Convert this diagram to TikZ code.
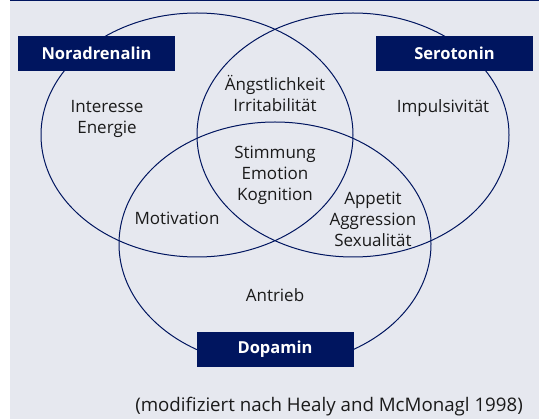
\documentclass[tikz,border=0pt]{standalone}
\usepackage{fontspec}
\setmainfont{Open Sans}
\definecolor{navy}{HTML}{00155F}
\definecolor{panel}{HTML}{E6E8EF}
\definecolor{ink}{HTML}{1A1A1A}
\begin{document}
\begin{tikzpicture}[x=1pt,y=-1pt, label/.style={align=center,text=ink,font=\fontsize{17}{21}\selectfont,inner sep=0pt}, system/.style={fill=navy,text=white,font=\bfseries\fontsize{16.5}{18}\selectfont,minimum width=157pt,minimum height=35pt,inner sep=0pt}, ring/.style={draw=navy,line width=1pt}]
      \useasboundingbox (0,0) rectangle (541,419);
      \fill[panel] (10,0) rectangle (539,419);
      \draw[navy,line width=1.5pt] (10,0.75) -- (539,0.75);

      % the three systems
      \draw[ring] (197,135) ellipse [x radius=156pt, y radius=122pt];
      \draw[ring] (353,135) ellipse [x radius=156pt, y radius=122pt];
      \draw[ring] (275,244) ellipse [x radius=156pt, y radius=122pt];

      \node[system] (nor) at (96.5,53.5) {Noradrenalin};
      \node[system] (ser) at (454.5,53.5) {Serotonin};
      \node[system] (dop) at (275,349.5) {Dopamin};

      \node[label] (int) at (107,119) {Interesse\\Energie};
      \node[label] (ang) at (275,93) {Ängstlichkeit\\Irritabilität};
      \node[label] (imp) at (443,108) {Impulsivität};
      \node[label] (sti) at (275,175) {Stimmung\\Emotion\\Kognition};
      \node[label] (mot) at (177,218) {Motivation};
      \node[label] (app) at (373,219) {Appetit\\Aggression\\Sexualität};
      \node[label] (ant) at (275,295) {Antrieb};

      \node[label,anchor=east,font=\fontsize{18.7}{21}\selectfont] (src) at (523,407) {(modifiziert nach Healy and McMonagl 1998)};
    \end{tikzpicture}
\end{document}
